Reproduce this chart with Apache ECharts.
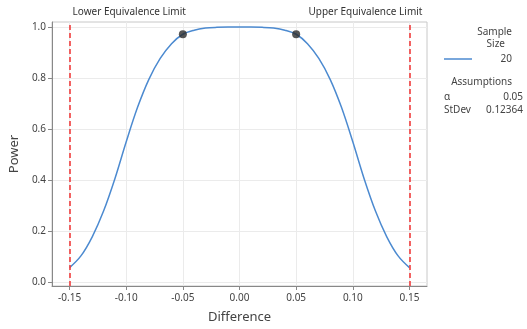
<!DOCTYPE html>
<html>
<head>
<meta charset="utf-8">
<script src="https://cdn.jsdelivr.net/npm/echarts@6/dist/echarts.min.js"></script>
<style>
  html, body { margin: 0; padding: 0; background: #fff; }
  #chart { width: 527px; height: 329px; }
</style>
</head>
<body>
<div id="chart"></div>
<script>
// power curve
var differences = [-0.15, -0.14, -0.13, -0.12, -0.11, -0.10, -0.09, -0.08, -0.07, -0.06, -0.05, -0.04, -0.03, -0.02, -0.01, 0,
  0.01, 0.02, 0.03, 0.04, 0.05, 0.06, 0.07, 0.08, 0.09, 0.10, 0.11, 0.12, 0.13, 0.14, 0.15];
var power = [0.056, 0.102, 0.177, 0.278, 0.405, 0.55, 0.685, 0.795, 0.877, 0.935, 0.972, 0.988, 0.996, 0.999, 1.0, 1.0,
  1.0, 0.999, 0.996, 0.988, 0.972, 0.935, 0.877, 0.795, 0.685, 0.55, 0.405, 0.278, 0.177, 0.102, 0.056];
var markX = [-0.05, 0.05];
var markY = [0.972, 0.972];
var limits = [-0.15, 0.15];
var limitNames = ['Lower Equivalence Limit', 'Upper Equivalence Limit'];
var xTicks = [-0.15, -0.10, -0.05, 0, 0.05, 0.10, 0.15];
var yTicks = [0, 0.2, 0.4, 0.6, 0.8, 1.0];
var sampleSize = '20';
var alpha = '0.05';
var stDev = '0.12364';

var font = '"Noto Sans", "Noto Sans CJK KR", sans-serif';
var textColor = '#444';
var lineBlue = '#4c8ad0';
var limitRed = '#f03c3c';

var chart = echarts.init(document.getElementById('chart'));

var curve = differences.map(function (d, i) { return [d, power[i]]; });
var dots = markX.map(function (d, i) { return [d, markY[i]]; });

var option = {
  backgroundColor: '#fff',
  animation: false,
  textStyle: { fontFamily: font },
  grid: {
    left: 45, right: 100, top: 22, bottom: 42,
    show: true, borderColor: '#c8c8c8', borderWidth: 1
  },
  xAxis: {
    type: 'value',
    min: -0.1655, max: 0.1655,
    name: 'Difference',
    nameLocation: 'middle',
    nameGap: 25,
    nameTextStyle: { fontSize: 13, color: textColor, fontFamily: font },
    axisLine: { show: true, onZero: false, lineStyle: { color: '#888' } },
    axisTick: { show: true, length: 4, lineStyle: { color: '#888' }, customValues: xTicks },
    axisLabel: {
      customValues: xTicks, fontSize: 10, color: textColor, margin: 7,
      formatter: function (v) { return v.toFixed(2); }
    },
    splitLine: { show: true, lineStyle: { color: '#ebebeb' } }
  },
  yAxis: {
    type: 'value',
    min: -0.016, max: 1.02,
    name: 'Power',
    nameLocation: 'middle',
    nameGap: 30,
    nameTextStyle: { fontSize: 13, color: textColor, fontFamily: font },
    axisLine: { show: true, onZero: false, lineStyle: { color: '#888' } },
    axisTick: { show: true, length: 4, lineStyle: { color: '#888' }, customValues: yTicks },
    axisLabel: {
      customValues: yTicks, fontSize: 10, color: textColor, margin: 6,
      formatter: function (v) { return v.toFixed(1); }
    },
    splitLine: { show: true, lineStyle: { color: '#ebebeb' } }
  },
  series: [
    {
      name: 'Sample Size 20',
      type: 'line',
      data: curve,
      smooth: 0.35,
      showSymbol: false,
      color: lineBlue,
      lineStyle: { color: lineBlue, width: 1.5 },
      z: 3,
      markLine: {
        silent: true,
        symbol: 'none',
        emphasis: { disabled: true },
        lineStyle: { color: limitRed, type: [5, 3], width: 1.6 },
        label: {
          show: true,
          position: 'end',
          fontSize: 10,
          color: '#333',
          fontFamily: font
        },
        data: limits.map(function (v, i) {
          return {
            xAxis: v,
            label: {
              formatter: limitNames[i],
              align: i === 0 ? 'left' : 'right',
              offset: i === 0 ? [3, 0] : [13, 0]
            }
          };
        })
      }
    },
    {
      type: 'scatter',
      data: dots,
      symbolSize: 8,
      itemStyle: { color: '#2a2a2a' },
      z: 4
    }
  ],
  graphic: [
    { type: 'text', right: 15, top: 27, style: { text: 'Sample', fontSize: 10, fill: textColor, fontFamily: font } },
    { type: 'text', right: 22, top: 39, style: { text: 'Size', fontSize: 10, fill: textColor, fontFamily: font } },
    { type: 'line', shape: { x1: 444, y1: 59, x2: 472, y2: 59 }, style: { stroke: lineBlue, lineWidth: 1.5 } },
    { type: 'text', right: 15, top: 54, style: { text: sampleSize, fontSize: 10, fill: textColor, fontFamily: font } },
    { type: 'text', right: 15, top: 77, style: { text: 'Assumptions', fontSize: 10, fill: textColor, fontFamily: font } },
    { type: 'text', left: 444, top: 92, style: { text: 'α', fontSize: 10, fill: textColor, fontFamily: font } },
    { type: 'text', right: 4, top: 92, style: { text: alpha, fontSize: 10, fill: textColor, fontFamily: font } },
    { type: 'text', left: 444, top: 105, style: { text: 'StDev', fontSize: 10, fill: textColor, fontFamily: font } },
    { type: 'text', right: 4, top: 105, style: { text: stDev, fontSize: 10, fill: textColor, fontFamily: font } }
  ]
};

chart.setOption(option);
</script>
</body>
</html>
